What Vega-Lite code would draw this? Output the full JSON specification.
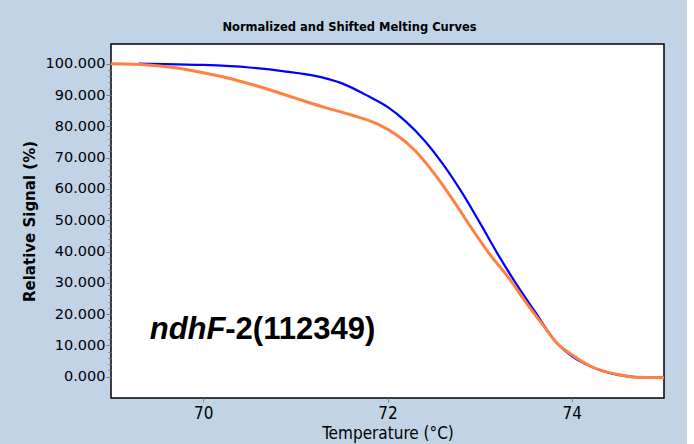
{
  "$schema": "https://vega.github.io/schema/vega-lite/v6.json",
  "autosize": "none",
  "width": 553,
  "height": 354,
  "padding": {"left": 111, "top": 44, "right": 23, "bottom": 46},
  "background": "#c1d4e6",
  "title": {"text": "Normalized and Shifted Melting Curves", "font": "DejaVu Sans", "fontSize": 11.5, "fontWeight": "bold", "color": "black", "dx": -38, "offset": 11},
  "config": {"view": {"fill": "white", "stroke": "black", "strokeWidth": 1.5}},
  "datasets": {
    "curves": [
      {"series": "A", "temp": 69.3, "signal": 100},
      {"series": "A", "temp": 69.6, "signal": 99.9},
      {"series": "A", "temp": 70.0, "signal": 99.6},
      {"series": "A", "temp": 70.5, "signal": 98.8},
      {"series": "A", "temp": 70.9, "signal": 97.5},
      {"series": "A", "temp": 71.2, "signal": 96.2},
      {"series": "A", "temp": 71.5, "signal": 93.8},
      {"series": "A", "temp": 71.8, "signal": 89.5},
      {"series": "A", "temp": 72.0, "signal": 86.2},
      {"series": "A", "temp": 72.2, "signal": 81.5},
      {"series": "A", "temp": 72.4, "signal": 75.5},
      {"series": "A", "temp": 72.6, "signal": 68},
      {"series": "A", "temp": 72.8, "signal": 59.2},
      {"series": "A", "temp": 73.0, "signal": 49.3},
      {"series": "A", "temp": 73.2, "signal": 39},
      {"series": "A", "temp": 73.4, "signal": 29.5},
      {"series": "A", "temp": 73.6, "signal": 20.8},
      {"series": "A", "temp": 73.83, "signal": 11},
      {"series": "A", "temp": 74.0, "signal": 6.6},
      {"series": "A", "temp": 74.22, "signal": 3.1},
      {"series": "A", "temp": 74.52, "signal": 0.5},
      {"series": "A", "temp": 74.7, "signal": -0.1},
      {"series": "A", "temp": 75.0, "signal": -0.3},
      {"series": "B", "temp": 69.0, "signal": 100},
      {"series": "B", "temp": 69.4, "signal": 99.6},
      {"series": "B", "temp": 69.7, "signal": 98.7},
      {"series": "B", "temp": 70.0, "signal": 97.1},
      {"series": "B", "temp": 70.3, "signal": 95.2},
      {"series": "B", "temp": 70.5, "signal": 93.6},
      {"series": "B", "temp": 70.72, "signal": 91.7},
      {"series": "B", "temp": 71.0, "signal": 89},
      {"series": "B", "temp": 71.3, "signal": 86.2},
      {"series": "B", "temp": 71.6, "signal": 83.7},
      {"series": "B", "temp": 71.9, "signal": 80.6},
      {"series": "B", "temp": 72.1, "signal": 77.2},
      {"series": "B", "temp": 72.3, "signal": 72.2},
      {"series": "B", "temp": 72.5, "signal": 65.2},
      {"series": "B", "temp": 72.71, "signal": 56.5},
      {"series": "B", "temp": 72.9, "signal": 48},
      {"series": "B", "temp": 73.1, "signal": 39.5},
      {"series": "B", "temp": 73.33, "signal": 31},
      {"series": "B", "temp": 73.5, "signal": 23.8},
      {"series": "B", "temp": 73.7, "signal": 16},
      {"series": "B", "temp": 73.83, "signal": 11},
      {"series": "B", "temp": 74.0, "signal": 7},
      {"series": "B", "temp": 74.22, "signal": 3.1},
      {"series": "B", "temp": 74.52, "signal": 0.6},
      {"series": "B", "temp": 74.7, "signal": -0.2},
      {"series": "B", "temp": 75.0, "signal": -0.3}
    ],
    "labels": [
      {"part": "italic", "text": "ndhF", "temp": 69.42, "signal": 12.2},
      {"part": "upright", "text": "-2(112349)", "temp": 70.24, "signal": 12.2}
    ]
  },
  "encoding": {
    "x": {"field": "temp", "type": "quantitative", "scale": {"domain": [69, 75], "nice": false, "zero": false},
      "axis": {"title": "Temperature (°C)", "values": [70, 72, 74], "format": "d", "domain": false, "grid": false, "tickColor": "#888888", "tickSize": 4, "labelPadding": 3, "labelFont": "DejaVu Sans Condensed, Liberation Sans", "labelFontSize": 17, "labelColor": "black", "titleFont": "DejaVu Sans Condensed, Liberation Sans", "titleFontSize": 17, "titleFontWeight": "normal", "titleColor": "black", "titlePadding": 4}},
    "y": {"field": "signal", "type": "quantitative", "scale": {"domain": [-6.8, 106.3], "nice": false, "zero": false},
      "axis": {"title": "Relative Signal (%)", "values": [0,2,4,6,8,10,12,14,16,18,20,22,24,26,28,30,32,34,36,38,40,42,44,46,48,50,52,54,56,58,60,62,64,66,68,70,72,74,76,78,80,82,84,86,88,90,92,94,96,98,100],
        "labelExpr": "datum.value % 10 === 0 ? format(datum.value, '.3f') : ''",
        "labelOverlap": false, "labelBound": false, "labelFlush": false,
        "domain": false, "grid": false, "tickColor": "#777777",
        "tickSize": {"condition": {"test": "datum.value % 10 === 0", "value": 5}, "value": 3},
        "labelPadding": 1, "labelFont": "DejaVu Sans", "labelFontSize": 14.5, "labelColor": "black",
        "titleFont": "DejaVu Sans", "titleFontSize": 15, "titleFontWeight": "bold", "titleColor": "black", "titlePadding": 8}}
  },
  "layer": [
    {
      "data": {"name": "curves"},
      "mark": {"type": "line", "interpolate": "monotone"},
      "encoding": {
        "color": {"field": "series", "type": "nominal", "scale": {"domain": ["A", "B"], "range": ["#0000ff", "#ff8040"]}, "legend": null},
        "strokeWidth": {"field": "series", "type": "nominal", "scale": {"domain": ["A", "B"], "range": [2.2, 3]}, "legend": null}
      }
    },
    {
      "data": {"name": "labels"},
      "transform": [{"filter": "datum.part === 'italic'"}],
      "mark": {"type": "text", "align": "left", "baseline": "alphabetic", "font": "Liberation Sans", "fontSize": 31, "fontWeight": "bold", "fontStyle": "italic", "color": "black"},
      "encoding": {"text": {"field": "text"}}
    },
    {
      "data": {"name": "labels"},
      "transform": [{"filter": "datum.part === 'upright'"}],
      "mark": {"type": "text", "align": "left", "baseline": "alphabetic", "font": "Liberation Sans", "fontSize": 31, "fontWeight": "bold", "color": "black"},
      "encoding": {"text": {"field": "text"}}
    }
  ]
}
